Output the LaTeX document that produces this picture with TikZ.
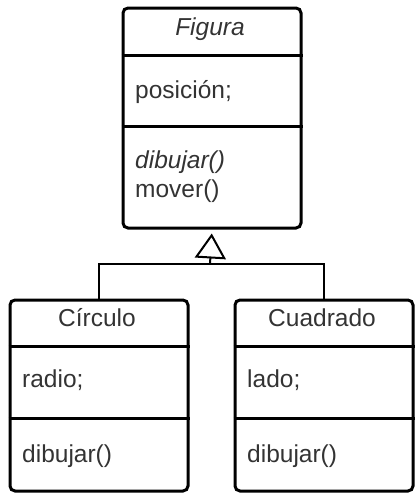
\documentclass[tikz,border=0pt]{standalone}
\usepackage{fontspec}
\setmainfont{Liberation Sans}
\usepackage{tikz}
\usetikzlibrary{arrows.meta}
\definecolor{txtgray}{HTML}{333333}
\tikzset{
    classbox/.style={draw, line width=3pt, rounded corners=5pt, minimum width=178pt, anchor=north west, inner sep=0pt},
    divider/.style={line width=3pt},
    member/.style={anchor=base west, text=txtgray, inner sep=0pt, font=\fontsize{24.5}{29}\selectfont},
    header/.style={anchor=base, text=txtgray, inner sep=0pt, font=\fontsize{24.5}{29}\selectfont},
    link/.style={line width=2pt}
}

\begin{document}
\begin{tikzpicture}[x=1pt, y=-1pt]
    \useasboundingbox (0,0) rectangle (418,496);
    % superclass
    \node[classbox, minimum height=220pt] (figura) at (121.5,6.5) {};
    \draw[divider] ([yshift=-49pt]figura.north west) -- ([yshift=-49pt]figura.north east);
    \draw[divider] ([yshift=-120pt]figura.north west) -- ([yshift=-120pt]figura.north east);
    \node[header, font=\fontsize{24.5}{29}\selectfont\itshape] (figuraname) at (210,35) {Figura};
    \node[member] (posicion) at (135,98) {posición;};
    \node[member, font=\fontsize{24.5}{29}\selectfont\itshape] (dibujarf) at (135,168) {dibujar()};
    \node[member] (mover) at (135,197) {mover()};
    % subclasses
    \node[classbox, minimum height=191pt] (circulo) at (8.5,298.5) {};
    \draw[divider] ([yshift=-48pt]circulo.north west) -- ([yshift=-48pt]circulo.north east);
    \draw[divider] ([yshift=-120pt]circulo.north west) -- ([yshift=-120pt]circulo.north east);
    \node[header] (circuloname) at (97,326) {Círculo};
    \node[member] (radio) at (22,387) {radio;};
    \node[member] (dibujarc) at (22,462) {dibujar()};
    \node[classbox, minimum height=191pt] (cuadrado) at (233.5,298.5) {};
    \draw[divider] ([yshift=-48pt]cuadrado.north west) -- ([yshift=-48pt]cuadrado.north east);
    \draw[divider] ([yshift=-120pt]cuadrado.north west) -- ([yshift=-120pt]cuadrado.north east);
    \node[header] (cuadradoname) at (322,326) {Cuadrado};
    \node[member] (lado) at (247,387) {lado;};
    \node[member] (dibujarq) at (247,462) {dibujar()};
    % generalization
    \coordinate (joint) at (210,264);
    \draw[link] (circulo.north) |- (joint) -| (cuadrado.north);
    \draw[link, -{Triangle[open, length=25pt, width=31pt]}, shorten >=4pt] (joint) -- (figura.south);
\end{tikzpicture}
\end{document}
